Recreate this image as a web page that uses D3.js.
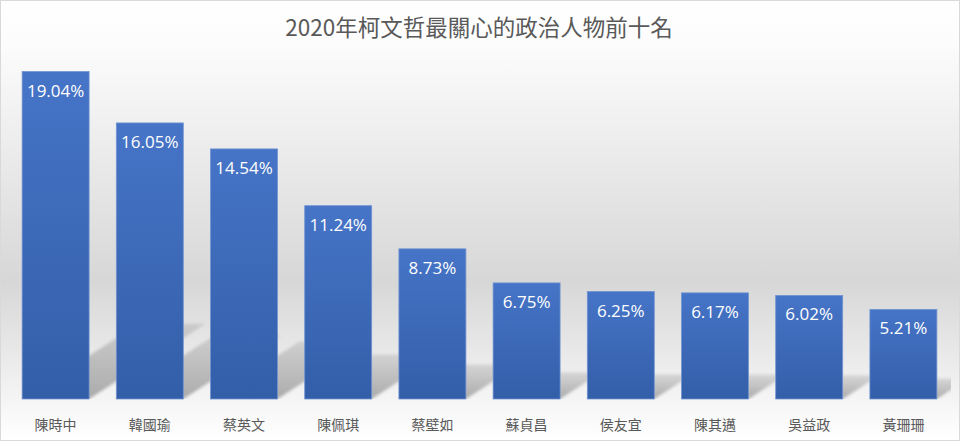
<!DOCTYPE html>
<html>
<head>
<meta charset="utf-8">
<script src="https://cdn.jsdelivr.net/npm/d3@7"></script>
<style>
  html, body { margin: 0; padding: 0; background: #fff; }
  svg { display: block; }
</style>
</head>
<body>
<svg id="chart" width="960" height="441"></svg>
<script>
const title = "2020年柯文哲最關心的政治人物前十名";
const categories = ["陳時中", "韓國瑜", "蔡英文", "陳佩琪", "蔡壁如", "蘇貞昌", "侯友宜", "陳其邁", "吳益政", "黃珊珊"];
const values = [19.04, 16.05, 14.54, 11.24, 8.73, 6.75, 6.25, 6.17, 6.02, 5.21];
const valueLabels = ["19.04%", "16.05%", "14.54%", "11.24%", "8.73%", "6.75%", "6.25%", "6.17%", "6.02%", "5.21%"];
const yDomain = [0, 20];

const W = 960, H = 441;
const plot = { left: 8, right: 951, top: 55, bottom: 399 };

const svg = d3.select("#chart");
const defs = svg.append("defs");

// chart background gradient
const bg = defs.append("linearGradient").attr("id", "bgGrad")
  .attr("x1", 0).attr("y1", 0).attr("x2", 0).attr("y2", 1);
bg.append("stop").attr("offset", "0%").attr("stop-color", "#ffffff");
bg.append("stop").attr("offset", "10%").attr("stop-color", "#fcfcfc");
bg.append("stop").attr("offset", "64%").attr("stop-color", "#d7d7d7");
bg.append("stop").attr("offset", "100%").attr("stop-color", "#ffffff");

// bar gradient
const barGrad = defs.append("linearGradient").attr("id", "barGrad")
  .attr("x1", 0).attr("y1", 0).attr("x2", 0).attr("y2", 1);
barGrad.append("stop").attr("offset", "0%").attr("stop-color", "#4674c7");
barGrad.append("stop").attr("offset", "100%").attr("stop-color", "#335ea8");

// shadow gradient
const shGrad = defs.append("linearGradient").attr("id", "shGrad")
  .attr("x1", 0).attr("y1", 1).attr("x2", 0).attr("y2", 0);
shGrad.append("stop").attr("offset", "0%").attr("stop-color", "#000").attr("stop-opacity", 0.3);
shGrad.append("stop").attr("offset", "100%").attr("stop-color", "#000").attr("stop-opacity", 0.1);

const blur = defs.append("filter").attr("id", "shBlur")
  .attr("x", "-10%").attr("y", "-10%").attr("width", "120%").attr("height", "120%");
blur.append("feGaussianBlur").attr("stdDeviation", 1.5);

defs.append("clipPath").attr("id", "plotClip")
  .append("rect").attr("x", plot.left).attr("y", 0)
  .attr("width", plot.right - plot.left).attr("height", plot.bottom);

svg.append("rect").attr("x", 0.5).attr("y", 0.5).attr("width", W - 1).attr("height", H - 1)
  .attr("fill", "url(#bgGrad)").attr("stroke", "#d9d9d9").attr("stroke-width", 1);

const x = d3.scaleBand().domain(categories)
  .range([plot.left, plot.right]).paddingInner(0.289).paddingOuter(0.15);
const y = d3.scaleLinear().domain(yDomain).range([plot.bottom, plot.top]);

const data = categories.map((c, i) => ({ c, v: values[i], label: valueLabels[i] }));

// perspective shadows
const shadowG = svg.append("g").attr("clip-path", "url(#plotClip)");
shadowG.selectAll("path").data(data).join("path")
  .attr("d", d => {
    const x0 = x(d.c), x1 = x0 + x.bandwidth();
    const b = y(0), h = y(0) - y(d.v);
    const top = b - 0.23 * h, dx = 0.355 * h;
    return `M${x0},${b}L${x1},${b}L${x1 + dx},${top}L${x0 + dx},${top}Z`;
  })
  .attr("fill", "url(#shGrad)")
  .attr("filter", "url(#shBlur)");

// bars
svg.append("g").selectAll("rect").data(data).join("rect")
  .attr("x", d => x(d.c))
  .attr("y", d => y(d.v))
  .attr("width", x.bandwidth())
  .attr("height", d => y(0) - y(d.v))
  .attr("fill", "url(#barGrad)")
  .attr("stroke", "#7194d2")
  .attr("stroke-width", 0.8);

// value labels
svg.append("g").selectAll("text").data(data).join("text")
  .attr("x", d => x(d.c) + x.bandwidth() / 2)
  .attr("y", d => y(d.v) + 25)
  .attr("text-anchor", "middle")
  .attr("fill", "#ffffff")
  .attr("font-family", "'Open Sans', 'Noto Sans', sans-serif")
  .attr("font-size", 17)
  .text(d => d.label);

// category axis labels
const xAxis = d3.axisBottom(x).tickSize(0).tickPadding(0);
const axG = svg.append("g").attr("transform", `translate(0,${plot.bottom})`).call(xAxis);
axG.select(".domain").remove();
axG.selectAll("text")
  .attr("y", 31)
  .attr("dy", 0)
  .attr("fill", "#595959")
  .attr("font-family", "'Noto Sans CJK TC', 'Noto Sans CJK SC', sans-serif")
  .attr("font-size", 14);

// title
svg.append("text")
  .attr("x", 479).attr("y", 36)
  .attr("text-anchor", "middle")
  .attr("fill", "#595959")
  .attr("font-family", "'Noto Sans CJK TC', 'Noto Sans CJK SC', sans-serif")
  .attr("font-size", 22.5)
  .text(title);
</script>
</body>
</html>
